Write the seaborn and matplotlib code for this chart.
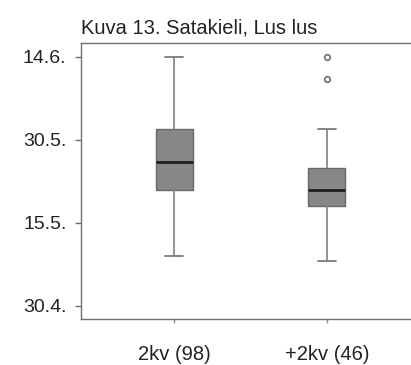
import matplotlib
matplotlib.use("Agg")
import matplotlib.pyplot as plt
import seaborn as sns
import pandas as pd

# Spring arrival dates, days counted from 30 April
groups = ["2kv (98)", "+2kv (46)"]
whisker_low = [9.0, 8.1]
q1 = [21.0, 18.1]
median = [26.0, 21.0]
q3 = [31.9, 25.0]
whisker_high = [45.0, 32.0]
outliers = [[], [41.0, 45.0]]

tick_days = [0, 15, 30, 45]
tick_labels = ["30.4.", "15.5.", "30.5.", "14.6."]

# Long-form table whose quartiles reproduce the summaries above
rows = []
for g, lo, a, m, b, hi, out in zip(groups, whisker_low, q1, median, q3,
                                   whisker_high, outliers):
    vals = [lo] + [a] * 3 + [m] * 3 + [b] * 3 + [hi] + list(out)
    rows += [{"group": g, "day": v} for v in vals]
df = pd.DataFrame(rows)

sns.set_style("white")
plt.rcParams["font.family"] = ["Liberation Sans", "DejaVu Sans"]

fig = plt.figure(figsize=(4.11, 3.65), dpi=100)
ax = fig.add_axes([81 / 411, 46 / 365, 339 / 411, 276 / 365])

sns.boxplot(
    data=df, x="group", y="day", order=groups, ax=ax,
    width=0.242, color="#878787", whis=1.5,
    linewidth=1.0, linecolor="#5a5a5a", saturation=1,
    boxprops=dict(facecolor="#878787", edgecolor="#6a6a6a", linewidth=1.0),
    medianprops=dict(color="#1e1e1e", linewidth=2.0),
    whiskerprops=dict(color="#8a8a8a", linewidth=1.3),
    capprops=dict(color="#7a7a7a", linewidth=1.3),
    flierprops=dict(marker="o", markersize=4, markerfacecolor="white",
                    markeredgecolor="#777777", markeredgewidth=1.3),
)

ax.set_xlim(-0.608, 1.608)
ax.set_ylim(-2.35, 47.5)
ax.set_yticks(tick_days)
ax.set_yticklabels(tick_labels)
ax.set_xlabel("")
ax.set_ylabel("")

for side in ["left", "bottom", "top"]:
    ax.spines[side].set_color("#707070")
    ax.spines[side].set_linewidth(1.0)
ax.spines["right"].set_visible(False)

ax.tick_params(axis="y", which="both", left=True, length=4, width=1,
               color="#707070", labelsize=14, pad=6.5, labelcolor="#222222")
ax.tick_params(axis="x", which="both", bottom=True, length=3, width=1,
               color="#909090", labelsize=14.5, pad=16, labelcolor="#222222")

ax.set_title("Kuva 13. Satakieli, Lus lus", loc="left", fontsize=14.5,
             color="#222222", pad=7)

fig.savefig("out.png", dpi=100)
